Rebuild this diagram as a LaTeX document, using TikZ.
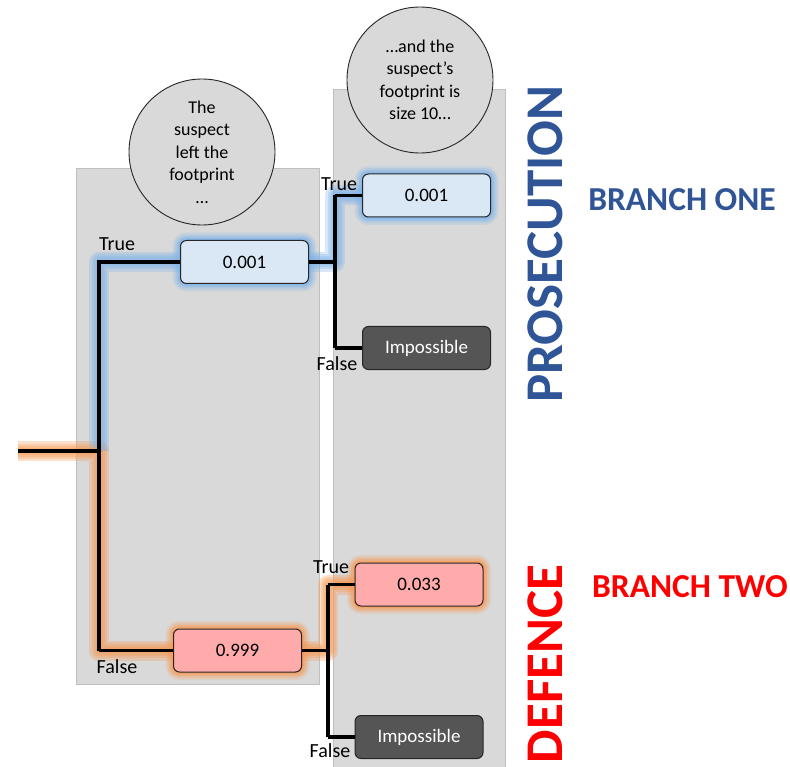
\documentclass[tikz,border=0pt]{standalone}
\usepackage{fontspec}
\setmainfont{Carlito}
\definecolor{panel}{HTML}{D9D9D9}
\definecolor{panelline}{HTML}{BFBFBF}
\definecolor{bglow}{HTML}{7FB3E8}
\definecolor{oglow}{HTML}{F59A55}
\definecolor{bfill}{HTML}{DAE7F5}
\definecolor{rfill}{HTML}{FFABAB}
\definecolor{imp}{HTML}{555555}
\definecolor{probl}{HTML}{2F5597}
\definecolor{defred}{HTML}{FF0000}
\begin{document}
\begin{tikzpicture}[x=1pt,y=-1pt,
  panelbox/.style={fill=panel,draw=panelline,line width=0.8pt},
  bubble/.style={circle,fill=panel,draw=black!85,line width=0.9pt,minimum size=146pt,inner sep=0pt,align=center,font=\fontsize{18}{22.5}\selectfont},
  probbox/.style={rounded corners=6pt,draw=black!85,line width=1pt,minimum width=128pt,minimum height=43pt,inner sep=0pt,font=\fontsize{19}{20}\selectfont},
  blueglowbox/.style={probbox,fill=bfill,
     preaction={draw=bglow,line width=16pt,draw opacity=0.18},
     preaction={draw=bglow,line width=12pt,draw opacity=0.25},
     preaction={draw=bglow,line width=8pt,draw opacity=0.4},
     preaction={draw=bglow,line width=4pt,draw opacity=0.6}},
  redglowbox/.style={probbox,fill=rfill,
     preaction={draw=oglow,line width=16pt,draw opacity=0.18},
     preaction={draw=oglow,line width=12pt,draw opacity=0.25},
     preaction={draw=oglow,line width=8pt,draw opacity=0.4},
     preaction={draw=oglow,line width=4pt,draw opacity=0.6}},
  impbox/.style={probbox,fill=imp,text=white},
  branch/.style={draw=black,line width=3.2pt},
  bglowline/.style={draw=bglow,line width=#1,draw opacity=0.3,line join=round},
  oglowline/.style={draw=oglow,line width=#1,draw opacity=0.3,line join=round},
  lbl/.style={font=\fontsize{20}{22}\selectfont,inner sep=0pt}
]
\useasboundingbox (0,0) rectangle (790,767);
% panels
\fill[panelbox] (76,168) rectangle (319,684);
\fill[panelbox] (333,89) rectangle (505,770);
% bubbles
\node[bubble] (q1) at (202,152) {The\\suspect\\left the\\footprint\\\ldots};
\node[bubble] (q2) at (420,80) {\ldots and the\\suspect’s\\footprint is\\size 10\ldots};
% coordinates
\coordinate (s) at (18,451);
\coordinate (j0) at (99,451);
\coordinate (j1) at (335,262);
\coordinate (j2) at (328,650.5);
\coordinate (b1w) at (180.5,262);
\coordinate (b1e) at (308.5,262);
\coordinate (b2w) at (362.5,195.5);
\coordinate (r1w) at (173.5,650.5);
\coordinate (r1e) at (301.5,650.5);
\coordinate (r2w) at (355,584.5);
% glows (behind lines)
\foreach \w in {20pt,15pt,11pt,7pt}{
  \draw[oglowline=\w] (s) -- (j0) -- (j0 |- r1w) -- (r1w);
  \draw[oglowline=\w] (r1e) -- (j2) -- (j2 |- r2w) -- (r2w);
  \draw[bglowline=\w] (j0) -- (j0 |- b1w) -- (b1w);
  \draw[bglowline=\w] (b1e) -- (j1) -- (j1 |- b2w) -- (b2w);
}
% nodes
\node[blueglowbox] (b1) at (244.5,262) {0.001};
\node[blueglowbox] (b2) at (426.5,195.5) {0.001};
\node[impbox] (i1) at (426.5,348) {Impossible};
\node[redglowbox] (r1) at (237.5,650.5) {0.999};
\node[redglowbox] (r2) at (419,584.5) {0.033};
\node[impbox] (i2) at (419,737) {Impossible};
% connectors
\draw[branch] (s) -- (j0);
\draw[branch] (j0 |- r1) -- (j0 |- b1) -- (b1.west);
\draw[branch] (j0 |- r1) -- (r1.west);
\draw[branch] (b1.east) -- (j1);
\draw[branch] (j1 |- b2) -- (j1 |- i1);
\draw[branch] (j1 |- b2) -- (b2.west);
\draw[branch] (j1 |- i1) -- (i1.west);
\draw[branch] (r1.east) -- (j2);
\draw[branch] (j2 |- r2) -- (j2 |- i2);
\draw[branch] (j2 |- r2) -- (r2.west);
\draw[branch] (j2 |- i2) -- (i2.west);
% labels
\node[lbl] (t1) at (117,244) {True};
\node[lbl] (f1) at (117,667) {False};
\node[lbl] (t2) at (339,184) {True};
\node[lbl] (f2) at (337,364) {False};
\node[lbl] (t3) at (331,567) {True};
\node[lbl] (f3) at (330,751) {False};
% side titles
\node[rotate=90,text=probl,font=\fontsize{53}{53}\selectfont\bfseries,inner sep=0pt] (pros) at (545,244) {PROSECUTION};
\node[rotate=90,text=defred,font=\fontsize{53}{53}\selectfont\bfseries,inner sep=0pt] (def) at (545,664) {DEFENCE};
\node[text=probl,font=\fontsize{33.5}{34}\selectfont\bfseries,inner sep=0pt] (br1) at (682,200) {BRANCH ONE};
\node[text=defred,font=\fontsize{33.5}{34}\selectfont\bfseries,inner sep=0pt] (br2) at (690,587) {BRANCH TWO};
\end{tikzpicture}
\end{document}
